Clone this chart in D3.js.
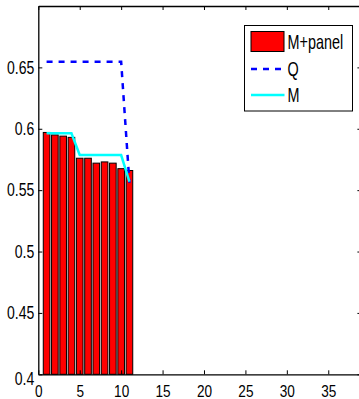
<!DOCTYPE html>
<html>
<head>
<meta charset="utf-8">
<script src="https://cdn.jsdelivr.net/npm/d3@7"></script>
<style>
  html, body { margin: 0; padding: 0; background: #fff; }
  svg { display: block; font-family: "Liberation Sans", Arial, Helvetica, sans-serif; }
</style>
</head>
<body>
<div id="chart"></div>
<script>
// data
const xs = [1, 2, 3, 4, 5, 6, 7, 8, 9, 10, 11];
const barVals = [0.597, 0.595, 0.594, 0.593, 0.576, 0.576, 0.572, 0.573, 0.572, 0.5675, 0.566];
const qVals = [0.6546, 0.6546, 0.6546, 0.6546, 0.6546, 0.6546, 0.6546, 0.6546, 0.6546, 0.6546, 0.556];
const mVals = [0.5963, 0.5963, 0.5963, 0.5963, 0.5786, 0.5786, 0.5786, 0.5786, 0.5786, 0.5786, 0.557];
const xTicks = [0, 5, 10, 15, 20, 25, 30, 35];
const yTicks = [0.4, 0.45, 0.5, 0.55, 0.6, 0.65];
const legendNames = ['M+panel', 'Q', 'M'];

const W = 359, H = 399;
const x = d3.scaleLinear().domain([0, 39]).range([38.3, 361.4]);
const y = d3.scaleLinear().domain([0.4, 0.7]).range([374.3, 6]);

const svg = d3.select('#chart').append('svg')
  .attr('width', W).attr('height', H);

svg.append('rect').attr('width', W).attr('height', H).attr('fill', '#fff');

// bars
const bw = x(0.8) - x(0);
svg.append('g')
  .selectAll('rect')
  .data(barVals)
  .enter().append('rect')
  .attr('x', (d, i) => x(xs[i]) - bw / 2)
  .attr('y', d => y(d))
  .attr('width', bw)
  .attr('height', d => y(0.4) - y(d))
  .attr('fill', '#ff0000')
  .attr('stroke', '#000')
  .attr('stroke-width', 1);

const line = d3.line().x((d, i) => x(xs[i])).y(d => y(d));

svg.append('path')
  .datum(qVals)
  .attr('d', line)
  .attr('fill', 'none')
  .attr('stroke', '#0000ff')
  .attr('stroke-width', 2.5)
  .attr('stroke-dasharray', '6,6');

svg.append('path')
  .datum(mVals)
  .attr('d', line)
  .attr('fill', 'none')
  .attr('stroke', '#00ffff')
  .attr('stroke-width', 2.5);

// axes, matlab box style with inward ticks
function axisStyle(g) {
  g.select('.domain').attr('stroke', '#000').attr('stroke-width', 1.3);
  g.selectAll('.tick line').attr('stroke', '#000');
}

svg.append('g')
  .attr('transform', 'translate(0,' + y(0.4) + ')')
  .call(d3.axisBottom(x).tickValues(xTicks).tickSizeInner(-4).tickSizeOuter(0).tickFormat(d3.format('d')))
  .call(axisStyle)
  .call(g => g.selectAll('.tick text')
    .attr('font-size', 17).attr('fill', '#000')
    .attr('dy', null)
    .attr('y', 22.8)
    .attr('transform', 'scale(0.8,1)'));

svg.append('g')
  .attr('transform', 'translate(0,' + y(0.7) + ')')
  .call(d3.axisTop(x).tickValues(xTicks).tickSizeInner(-4).tickSizeOuter(0).tickFormat(''))
  .call(axisStyle);

svg.append('g')
  .attr('transform', 'translate(' + x(0) + ',0)')
  .call(d3.axisLeft(y).tickValues(yTicks).tickSizeInner(-4).tickSizeOuter(0).tickFormat(d => String(+d.toFixed(2))))
  .call(axisStyle)
  .call(g => g.selectAll('.tick text')
    .attr('font-size', 18).attr('fill', '#000')
    .attr('transform', 'scale(0.78,1)')
    .attr('x', -4 / 0.78)
    .attr('y', d => d === 0.4 ? 4 : 0));

svg.append('g')
  .attr('transform', 'translate(' + x(39) + ',0)')
  .call(d3.axisRight(y).tickValues(yTicks).tickSizeInner(-4).tickSizeOuter(0).tickFormat(''))
  .call(axisStyle);

// legend
const lg = svg.append('g').attr('transform', 'translate(244.5,25.5)');
lg.append('rect')
  .attr('width', 108).attr('height', 85.5)
  .attr('fill', '#fff').attr('stroke', '#000').attr('stroke-width', 1);

const rowY = [16.5, 43.5, 69.5];
lg.append('rect')
  .attr('x', 6.5).attr('y', 6).attr('width', 33).attr('height', 20)
  .attr('fill', '#ff0000').attr('stroke', '#000');
lg.append('line')
  .attr('x1', 6.5).attr('x2', 40).attr('y1', rowY[1]).attr('y2', rowY[1])
  .attr('stroke', '#0000ff').attr('stroke-width', 2.5).attr('stroke-dasharray', '6,6');
lg.append('line')
  .attr('x1', 6.5).attr('x2', 40).attr('y1', rowY[2]).attr('y2', rowY[2])
  .attr('stroke', '#00ffff').attr('stroke-width', 2.5);

lg.selectAll('text.lab')
  .data(legendNames)
  .enter().append('text')
  .attr('class', 'lab')
  .attr('transform', (d, i) => 'translate(43,' + (rowY[i] + 7) + ') scale(0.72,1)')
  .attr('font-size', 20)
  .attr('fill', '#000')
  .text(d => d);
</script>
</body>
</html>
